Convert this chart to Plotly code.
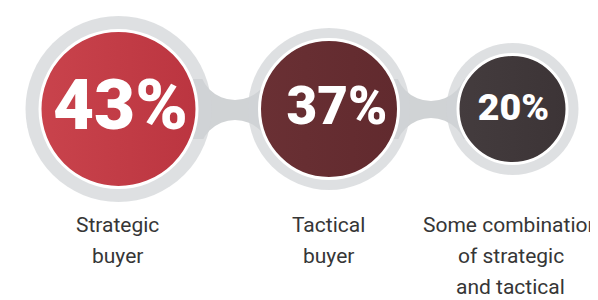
import plotly.graph_objects as go

# ---- data ----
categories = ["Strategic<br>buyer", "Tactical<br>buyer", "Some combination<br>of strategic<br>and tactical"]
values = [43, 37, 20]
value_labels = [f"{v}%" for v in values]

# ---- layout constants (pixel space) ----
W, H = 598, 300
cx = [110.5, 321, 504.5]
cy = 101
r_col = [77, 68, 53]        # coloured disc radius
r_gray = [93, 81, 66]       # grey ring outer radius
ring_white = 3
fill_cols = ["#c9434c", "#6a3034", "#443c3e"]
grad_cols = ["#bb3540", "#612a2e", "#3c3436"]
gray = "#d0d3d5"
pct_font = [71, 53, 37.5]
pct_dx = [2, 8, 1]
text_col = "#363636"
FONT = "Roboto, Liberation Sans, sans-serif"
label_font = 21
label_dx = [-1, -1, -2]
line_y = [217, 248, 279]    # vertical centre of each label line

fig = go.Figure()

# necks between grey rings (decorative connectors)
shapes = []
necks = [(227, 92, 112), (423, 93, 110)]
for i, (wx, top, bot) in enumerate(necks):
    x0, x1 = cx[i], cx[i + 1]
    shapes.append(dict(type="rect", xref="x", yref="y", x0=x0, x1=x1, y0=cy - 30, y1=cy + 30,
                       fillcolor=gray, line=dict(width=0), layer="below"))
    rc = 36
    shapes.append(dict(type="circle", xref="x", yref="y", x0=wx - rc, x1=wx + rc,
                       y0=top - 2 * rc, y1=top, fillcolor="white", line=dict(width=0), layer="below"))
    shapes.append(dict(type="circle", xref="x", yref="y", x0=wx - rc, x1=wx + rc,
                       y0=bot, y1=bot + 2 * rc, fillcolor="white", line=dict(width=0), layer="below"))

# grey rings
fig.add_trace(go.Scatter(
    x=cx, y=[cy] * 3, mode="markers",
    marker=dict(size=[2 * r for r in r_gray], color=gray, line=dict(width=0)),
    hoverinfo="skip", showlegend=False))

# coloured discs with white ring
for i in range(3):
    fig.add_trace(go.Scatter(
        x=[cx[i]], y=[cy], mode="markers",
        marker=dict(size=2 * r_col[i] + ring_white, color=fill_cols[i],
                    gradient=dict(type="horizontal", color=grad_cols[i]),
                    line=dict(width=ring_white, color="white")),
        hoverinfo="skip", showlegend=False))

# percentage labels
for i in range(3):
    fig.add_trace(go.Scatter(
        x=[cx[i] + pct_dx[i]], y=[cy + 2], mode="text", text=[value_labels[i]],
        textposition="middle center",
        textfont=dict(family=FONT, size=pct_font[i], color="white", weight=900),
        hoverinfo="skip", showlegend=False))

# category labels (one annotation per line for exact line spacing)
annotations = []
for i, c in enumerate(categories):
    for j, line in enumerate(c.split("<br>")):
        annotations.append(dict(
            x=cx[i] + label_dx[i], y=line_y[j], xref="x", yref="y", text=line, showarrow=False,
            xanchor="center", yanchor="middle", align="center",
            font=dict(family=FONT, size=label_font, color=text_col)))

fig.update_layout(
    width=W, height=H, margin=dict(l=0, r=0, t=0, b=0),
    paper_bgcolor="white", plot_bgcolor="white",
    xaxis=dict(range=[0, W], visible=False, fixedrange=True),
    yaxis=dict(range=[H, 0], visible=False, fixedrange=True),
    shapes=shapes, annotations=annotations,
)

fig.write_html("out.html")
